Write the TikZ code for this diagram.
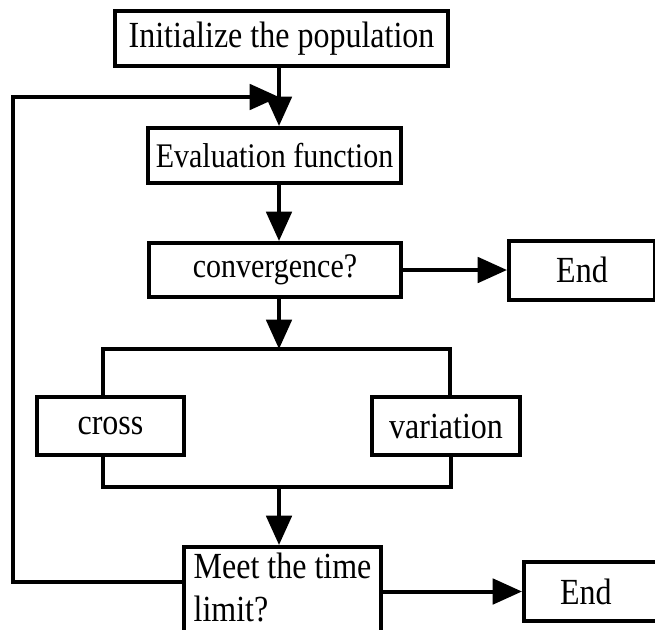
\documentclass[tikz,border=0pt]{standalone}
\usepackage{fontspec}
\usepackage{graphicx}
\setmainfont{Liberation Serif}
\usetikzlibrary{arrows.meta, positioning}
\newcommand{\tallt}[1]{\scalebox{1}[1.15]{#1}}
\tikzstyle{stepbox} = [draw, rectangle, line width=3pt,
inner sep=0pt, text centered,
font=\fontsize{24}{27.5}\selectfont]
\tikzstyle{smalltext} = [font=\fontsize{22.5}{27}\selectfont]
\tikzstyle{flowline} = [line width=3pt]
\tikzstyle{flowarrow} = [line width=3pt,
-{Triangle[length=22pt, width=19pt]}]

\begin{document}
\begin{tikzpicture}[x=0.75pt, y=-0.75pt]
	\useasboundingbox (0, 0) rectangle (655, 629);
	\clip (0, 0) rectangle (655, 629);
	\coordinate (a) at (281.5, 38.5);
	\coordinate (b) at (274.5, 155.5);
	\coordinate (c) at (275, 270);
	\coordinate (d) at (110.5, 426);
	\coordinate (e) at (446, 426);
	\coordinate (f) at (282.5, 591.5);
	\coordinate (spine) at (279, 0);
	\node[stepbox, minimum width=249.75pt, minimum height=41.25pt](init) at (a) {\tallt{Initialize the population}};
	\node[stepbox, smalltext, minimum width=189.75pt, minimum height=41.25pt](eval) at (b) {\tallt{Evaluation function}};
	\node[stepbox, smalltext, minimum width=189pt, minimum height=40.5pt](conv) at (c) {\tallt{convergence?}};
	\node[stepbox, minimum width=109.5pt, minimum height=44.25pt, right=78pt of conv](endA) {\tallt{End}};
	\node[stepbox, minimum width=110.25pt, minimum height=43.5pt](cross) at (d) {\tallt{cross}};
	\node[stepbox, minimum width=111pt, minimum height=43.5pt](variation) at (e) {\tallt{variation}};
	\node[stepbox, minimum width=147.75pt, minimum height=66.75pt](meet) at (f)
	{\tallt{\begin{tabular}{@{}l@{}}Meet the time\\limit?\end{tabular}}};
	\node[stepbox, align=left, text width=58.5pt, inner xsep=27pt,
	minimum height=44.25pt, right=104.25pt of meet](endB) {\tallt{End}};
	%% fork and join round cross / variation
	\coordinate (forkL) at (103, 349);
	\coordinate (forkR) at (450, 349);
	\coordinate (joinL) at (103, 487);
	\coordinate (joinR) at (451, 487);
	%% loop back from the time check
	\coordinate (loopB) at (13, 582);
	\coordinate (loopT) at (13, 97);
	%% main spine
	\draw[flowarrow] (init.south -| spine) -- (eval.north -| spine);
	\draw[flowarrow] (eval.south -| spine) -- (conv.north -| spine);
	\draw[flowarrow] (conv.south -| spine) -- (spine |- forkL);
	\draw[flowarrow] (conv.east) -- (conv.east -| endA.west);
	\draw[flowline] (cross.north -| forkL) -- (forkL) -- (forkR) -- (variation.north -| forkR);
	\draw[flowline] (cross.south -| joinL) -- (joinL) -- (joinR) -- (variation.south -| joinR);
	\draw[flowarrow] (spine |- joinL) -- (meet.north -| spine);
	\draw[flowarrow] (meet.east) -- (endB.west);
	\draw[flowarrow] (meet.west |- loopB) -- (loopB) -- (loopT) -- (spine |- loopT);
\end{tikzpicture}
\end{document}
